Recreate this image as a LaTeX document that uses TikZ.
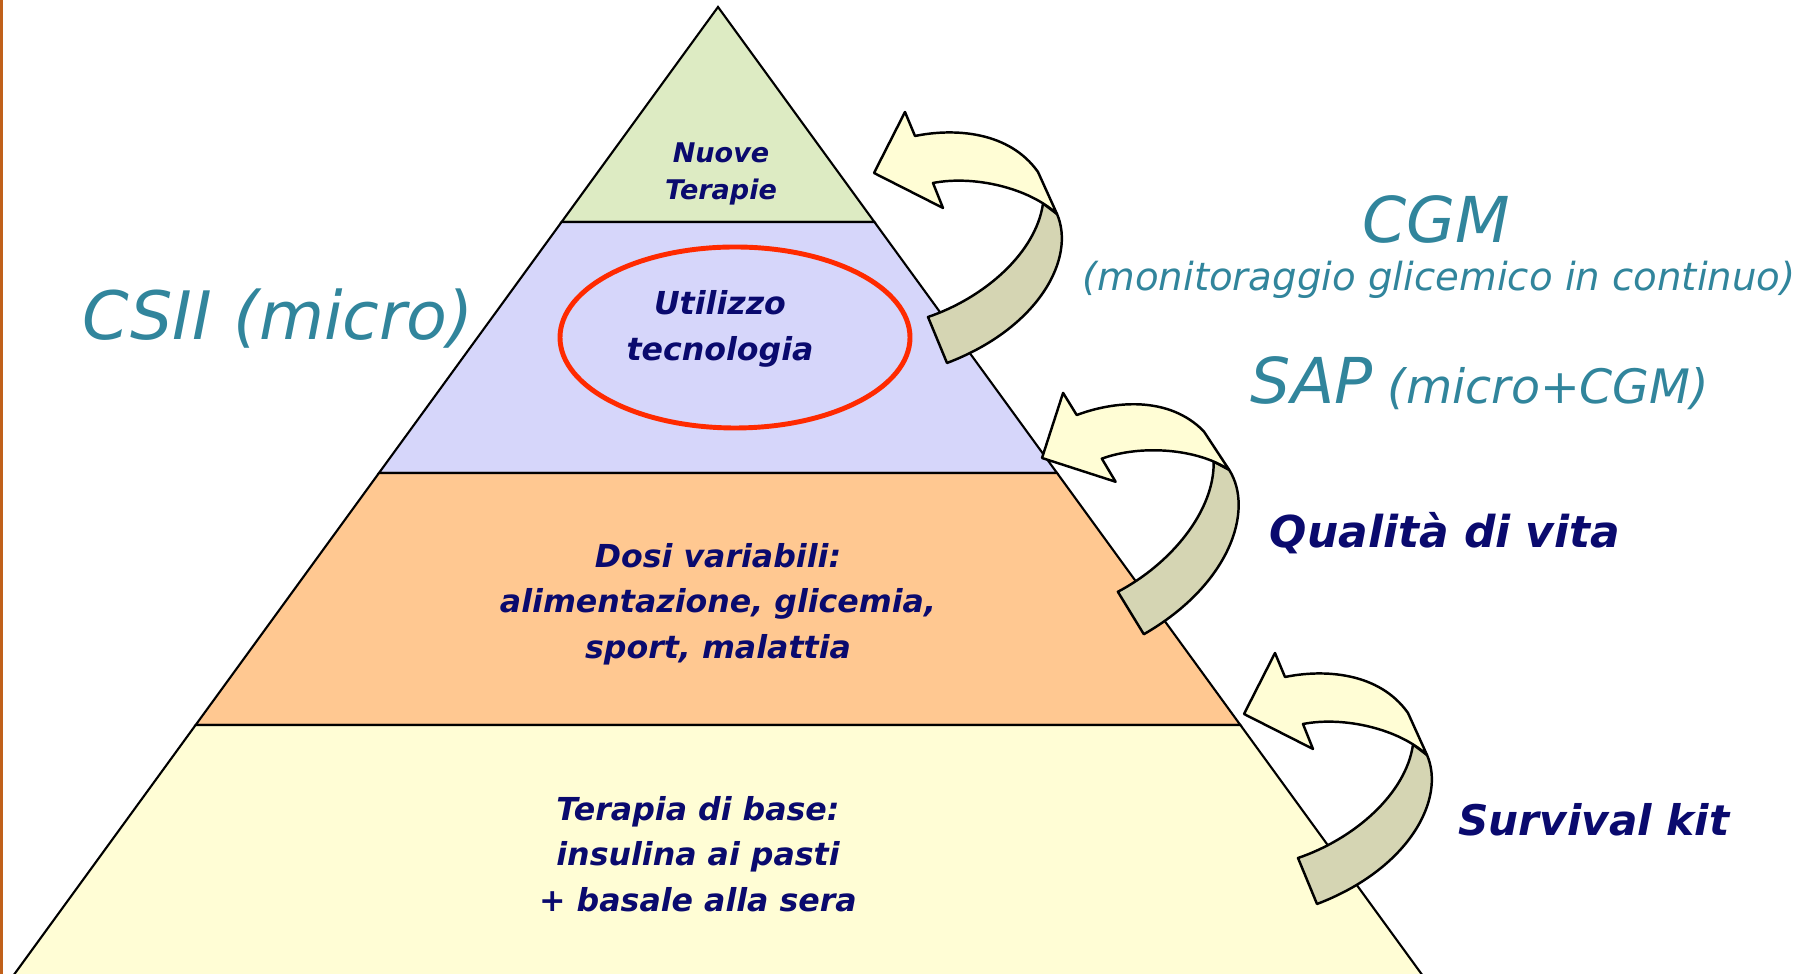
\documentclass[tikz,border=0pt]{standalone}
\usepackage{fontspec}
\setmainfont{DejaVu Sans}
\usepackage{xcolor}
\usetikzlibrary{positioning,calc}
\definecolor{topgreen}{HTML}{DDEBC3}
\definecolor{lavender}{HTML}{D6D6FA}
\definecolor{peach}{HTML}{FFC891}
\definecolor{cream}{HTML}{FFFDD5}
\definecolor{arrowback}{HTML}{D5D5B3}
\definecolor{navy}{HTML}{0A0A6E}
\definecolor{tealblue}{HTML}{31859C}
\definecolor{ringred}{HTML}{FF2A00}
\definecolor{slideedge}{HTML}{C0601A}
\tikzset{layer/.style={draw=black,line width=0.6pt},
  navy text/.style={text=navy,align=center,inner sep=0pt},
  teal text/.style={text=tealblue,align=center,inner sep=0pt},
  arrow front/.style={fill=cream,draw=black,line width=0.7pt,line join=round},
  arrow back/.style={fill=arrowback,draw=black,line width=0.7pt,line join=round},
  curl arrow/.pic={
    \filldraw[arrow back] (0.54,-1.44) .. controls (1.1,-1.25) and (1.62,-0.8) .. (1.69,-0.305)
      -- (1.83,-0.41) .. controls (2.02,-0.85) and (1.65,-1.55) .. (0.73,-1.90) -- cycle;
    \filldraw[arrow front] (0,0) -- (0.31,0.61) -- (0.41,0.37)
      .. controls (0.8,0.45) and (1.35,0.42) .. (1.64,0.01) -- (1.83,-0.41)
      .. controls (1.55,-0.15) and (1.0,-0.02) .. (0.59,-0.10) -- (0.69,-0.35) -- cycle;
  },
}

\begin{document}
\begin{tikzpicture}
    \useasboundingbox (0,0) rectangle (18.01,-9.74);
    \draw[slideedge,line width=0.8pt] (0.013,0) -- (0.013,-9.74);

    % pyramid
    \coordinate (apex) at (7.18,-0.07);
    \coordinate (bl) at (0.145,-9.74);
    \coordinate (br) at (14.215,-9.74);
    \begin{scope}
    \clip (0,0) rectangle (18.01,-9.74);
    \foreach \a/\b/\c in {0/0.2223/topgreen,0.2223/0.4819/lavender,0.4819/0.7425/peach,0.7425/1.05/cream}
        \filldraw[layer,fill=\c] ($(apex)!\a!(bl)$) -- ($(apex)!\b!(bl)$) -- ($(apex)!\b!(br)$) -- ($(apex)!\a!(br)$) -- cycle;
    \end{scope}
    \draw[ringred,line width=1.4pt] (7.35,-3.375) ellipse [x radius=1.75,y radius=0.905];

    \node[navy text,font=\bfseries\itshape\fontsize{7.7}{10.5}\selectfont] (nuove) at (7.21,-1.74) {Nuove\\Terapie};
    \node[navy text,font=\bfseries\itshape\fontsize{9}{13}\selectfont] (tecno) at (7.20,-3.29) {Utilizzo\\tecnologia};
    \node[navy text,font=\bfseries\itshape\fontsize{9}{13}\selectfont] (dosi) at (7.18,-6.04) {Dosi variabili:\\alimentazione, glicemia,\\sport, malattia};
    \node[navy text,font=\bfseries\itshape\fontsize{9}{13}\selectfont] (base) at (6.98,-8.54) {Terapia di base:\\insulina ai pasti\\+ basale alla sera};

    % arrows
    \pic at (8.74,-1.73) {curl arrow};
    \pic[rotate=9] at (10.42,-4.58) {curl arrow};
    \pic at (12.44,-7.14) {curl arrow};

    \node[teal text,font=\itshape\fontsize{19}{23}\selectfont] (csii) at (2.78,-3.19) {CSII (micro)};
    \node[teal text,font=\itshape\fontsize{18}{22}\selectfont] (cgm) at (14.36,-2.19) {CGM};
    \node[teal text,font=\itshape\fontsize{11}{14}\selectfont] (monit) at (14.39,-2.80) {(monitoraggio glicemico in continuo)};
    \node[teal text,font=\itshape\fontsize{13.5}{18}\selectfont] (sap) at (14.80,-3.83) {{\fontsize{18}{22}\selectfont SAP} (micro+CGM)};
    \node[navy text,font=\bfseries\itshape\fontsize{12.5}{16}\selectfont] (vita) at (14.45,-5.33) {Qualità di vita};
    \node[navy text,font=\bfseries\itshape\fontsize{12}{16}\selectfont] (kit) at (15.94,-8.20) {Survival kit};
\end{tikzpicture}
\end{document}
